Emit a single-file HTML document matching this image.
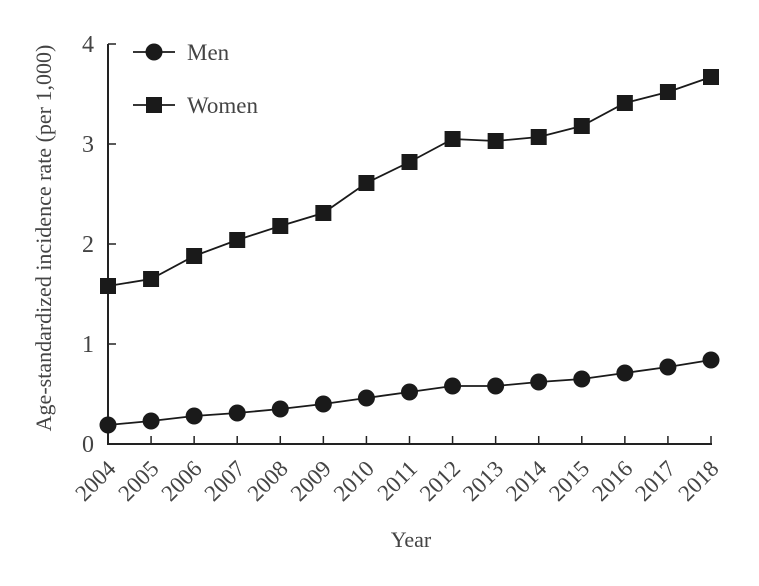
<!DOCTYPE html>
<html><head><meta charset="utf-8"><style>
html,body{margin:0;padding:0;background:#fff;}
svg text{font-family:"Liberation Serif",serif;fill:#444;}
</style></head><body>
<svg id="chart" width="759" height="581" xmlns="http://www.w3.org/2000/svg">
<g id="axes"></g><g id="series"></g><g id="legend"></g>
</svg>
<script>
const years=[2004,2005,2006,2007,2008,2009,2010,2011,2012,2013,2014,2015,2016,2017,2018];
const men=[0.19,0.23,0.28,0.31,0.35,0.40,0.46,0.52,0.58,0.58,0.62,0.65,0.71,0.77,0.84];
const women=[1.58,1.65,1.88,2.04,2.18,2.31,2.61,2.82,3.05,3.03,3.07,3.18,3.41,3.52,3.67];
const yTicks=[0,1,2,3,4];
const NS='http://www.w3.org/2000/svg';
const X0=108,X1=711,Y0=444,Y1=44;
function xs(i){return X0+(X1-X0)*i/(years.length-1);}
function ys(v){return Y0-(Y0-Y1)*v/4;}
function mk(tag,attrs,parent){const e=document.createElementNS(NS,tag);for(const k in attrs)e.setAttribute(k,attrs[k]);parent.appendChild(e);return e;}
const axes=document.getElementById('axes'),ser=document.getElementById('series'),leg=document.getElementById('legend');
let a=mk('path',{d:`M${X0},${Y1} V${Y0} H${X1+1}`,fill:'none',stroke:'#222','stroke-width':2},axes);


yTicks.forEach(t=>{
 const l=mk('line',{x1:X0,x2:X0+8,y1:ys(t),y2:ys(t),stroke:'#222','stroke-width':1.5},axes);
 
 
 const tx=mk('text',{x:94,y:ys(t)+8,'text-anchor':'end','font-size':24},axes);tx.textContent=t;
 
 
});
years.forEach((yr,i)=>{
 const x=xs(i);
 if(i>0){const l=mk('line',{x1:x,x2:x,y1:Y0,y2:Y0-8,stroke:'#222','stroke-width':1.5},axes);
 
 }
 const tx=mk('text',{x:0,y:0,'text-anchor':'end','font-size':23,transform:`translate(${x+9},${470}) rotate(-45)`},axes);tx.textContent=yr;
 
 
});
let t=mk('text',{x:411,y:547,'text-anchor':'middle','font-size':22},axes);t.textContent='Year';


t=mk('text',{x:0,y:0,'text-anchor':'middle','font-size':22,transform:'translate(51,238) rotate(-90)'},axes);t.textContent='Age-standardized incidence rate (per 1,000)';


function drawSeries(vals,shape,name){
 const p=mk('polyline',{points:vals.map((v,i)=>xs(i)+','+ys(v)).join(' '),fill:'none',stroke:'#1a1a1a','stroke-width':1.8},ser);
 
 
 vals.forEach((v,i)=>{
  let m;
  if(shape==='c')m=mk('circle',{cx:xs(i),cy:ys(v),r:8.5,fill:'#1a1a1a'},ser);
  else m=mk('rect',{x:xs(i)-8,y:ys(v)-8,width:16,height:16,fill:'#1a1a1a'},ser);
  
  
 });
}
drawSeries(men,'c','men');
drawSeries(women,'s','women');
[['Men','c',52],['Women','s',105]].forEach(([lab,sh,y])=>{
 const g=mk('g',{},leg);
 
 
 mk('line',{x1:133,x2:175,y1:y,y2:y,stroke:'#1a1a1a','stroke-width':1.8},g);
 if(sh==='c')mk('circle',{cx:154,cy:y,r:8.5,fill:'#1a1a1a'},g);
 else mk('rect',{x:146,y:y-8,width:16,height:16,fill:'#1a1a1a'},g);
 const tx=mk('text',{x:187,y:y+8,'font-size':23},g);tx.textContent=lab;
});
</script>
</body></html>
